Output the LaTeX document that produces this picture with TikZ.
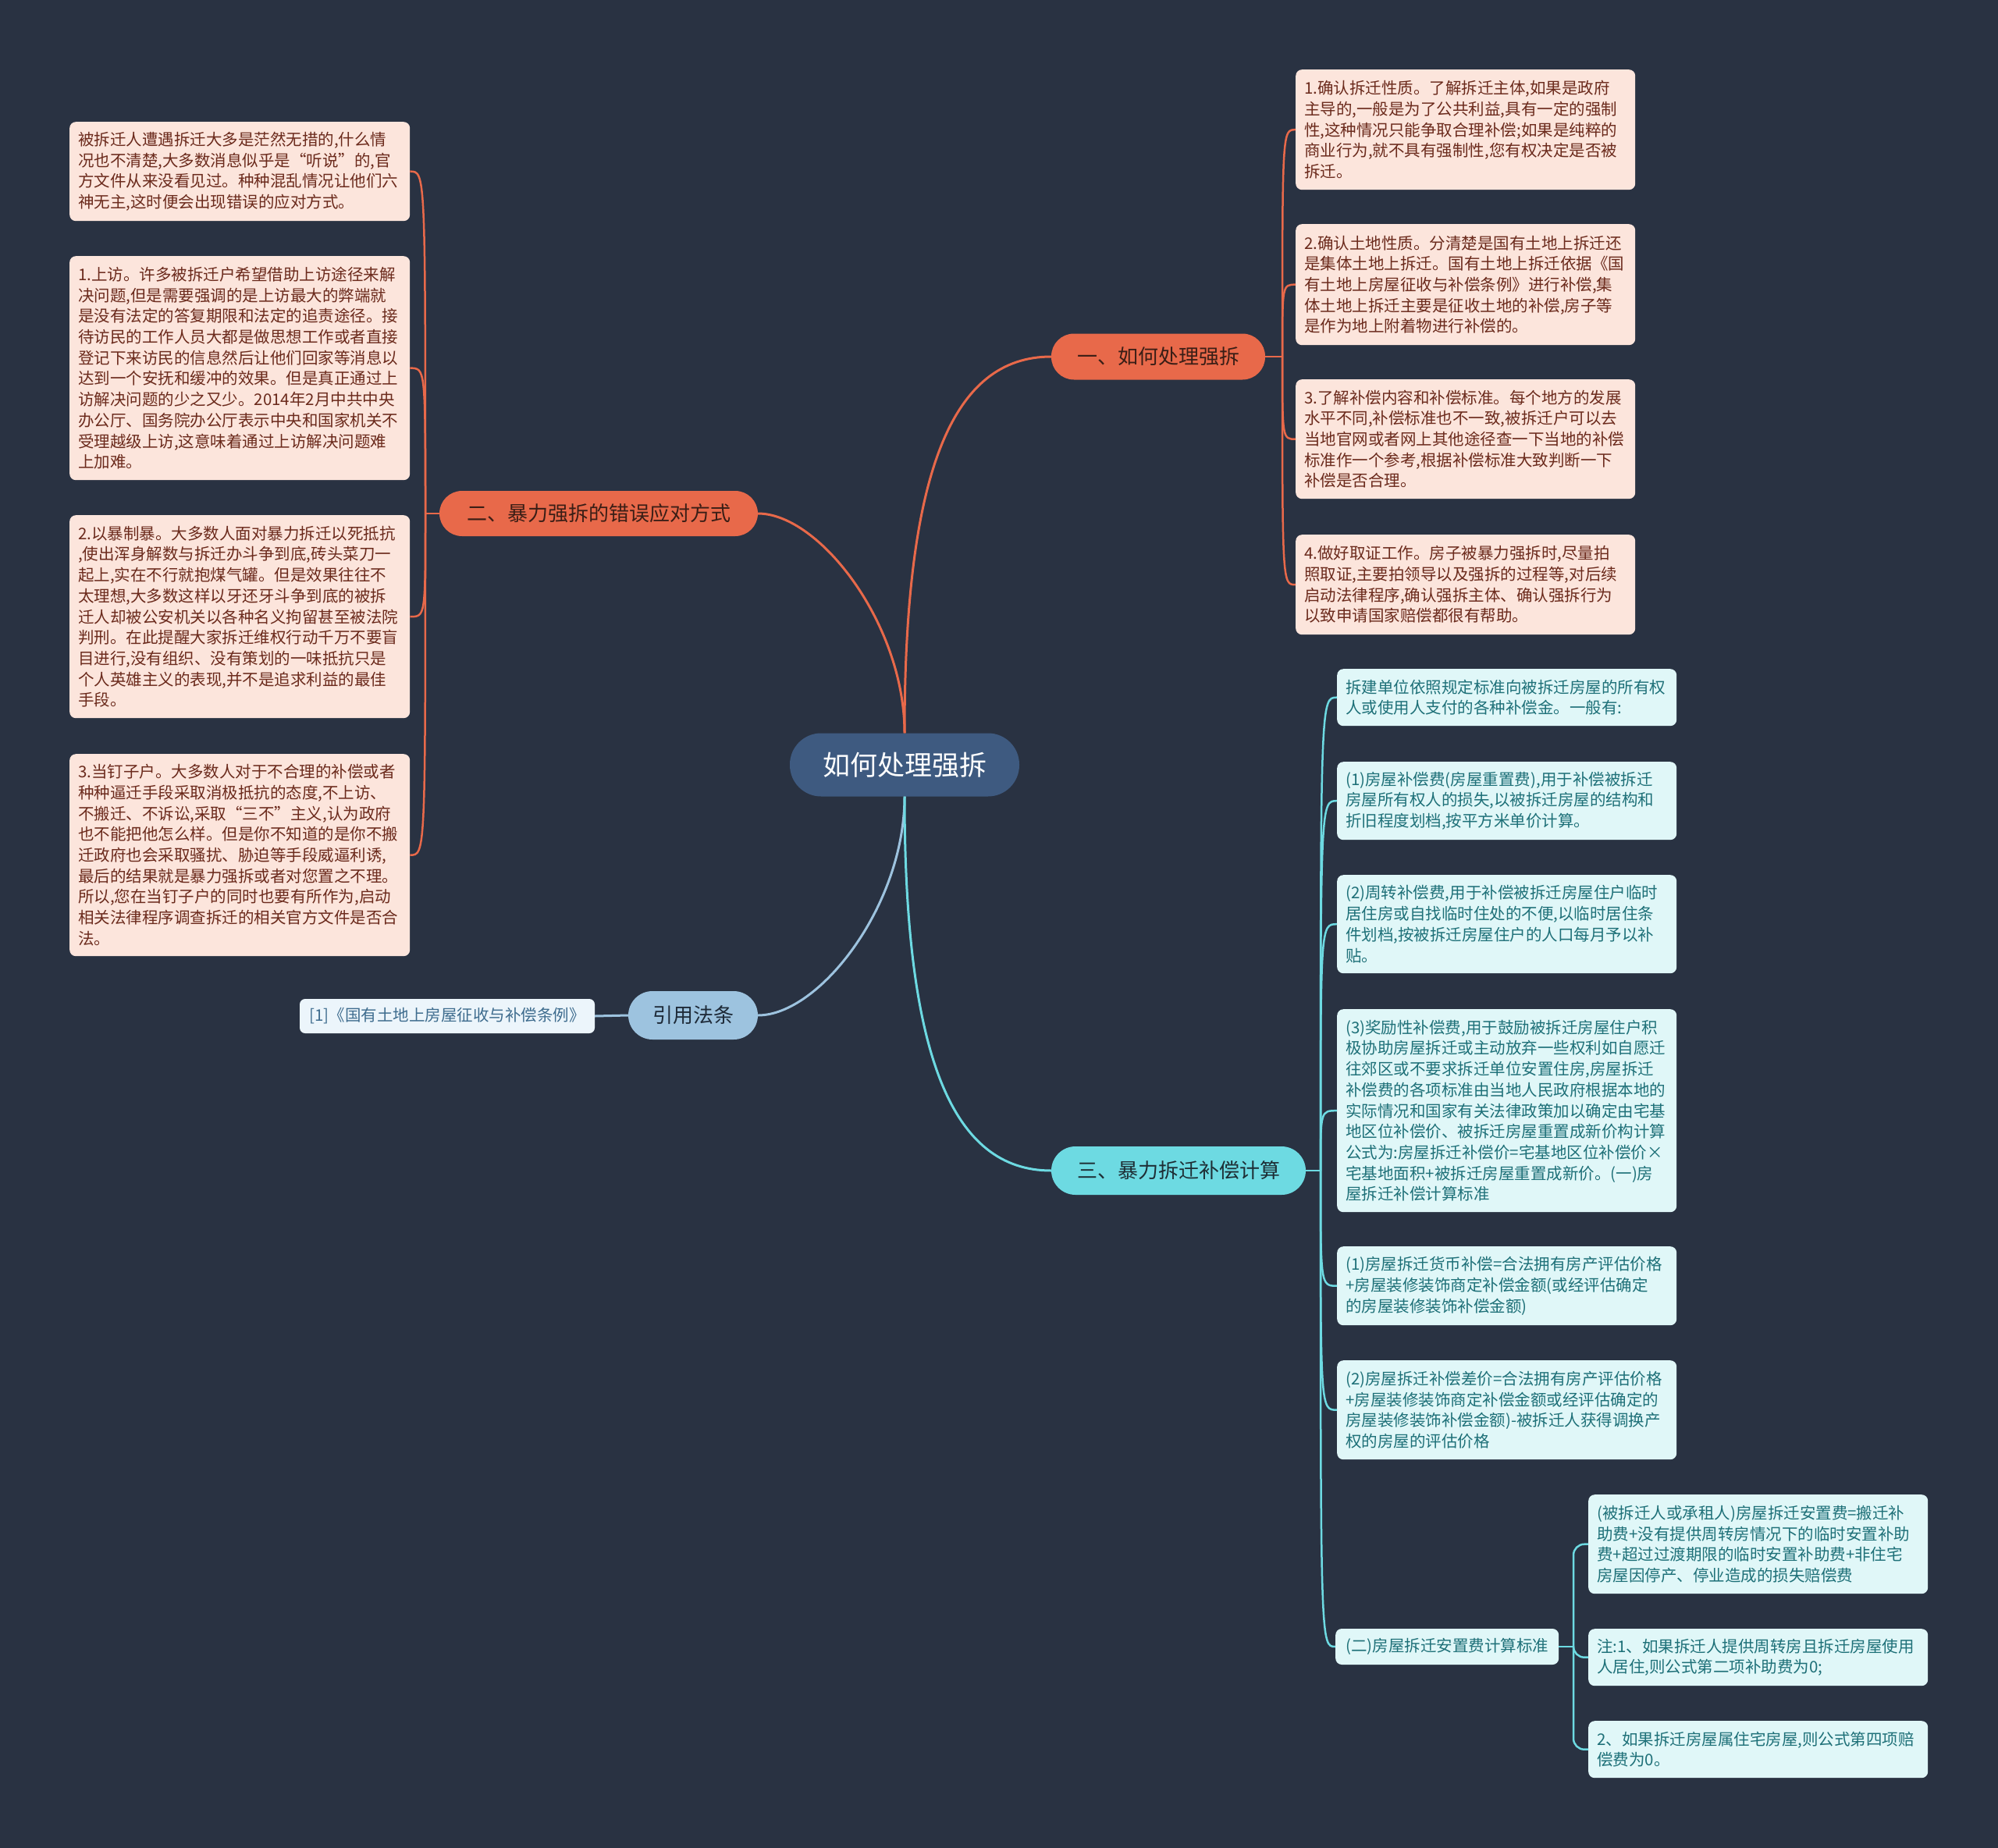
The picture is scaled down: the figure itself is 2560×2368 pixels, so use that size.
\documentclass[tikz,border=0pt]{standalone}
\usepackage{fontspec}
\setmainfont{Noto Sans CJK SC}
\definecolor{bg}{HTML}{293242}
\definecolor{orange}{HTML}{E8694A}
\definecolor{pinkfill}{HTML}{FCE5DC}
\definecolor{pinktext}{HTML}{6B2A1C}
\definecolor{cyanbr}{HTML}{6DDAE2}
\definecolor{cyanfill}{HTML}{E0F7F8}
\definecolor{cyantext}{HTML}{1E7078}
\definecolor{bluebr}{HTML}{9DC3DF}
\definecolor{citefill}{HTML}{ECF5FB}
\definecolor{citetext}{HTML}{3E6C8E}
\definecolor{centerfill}{HTML}{3E5A80}
\definecolor{brtext}{HTML}{3A1E16}
\definecolor{cyanbrtext}{HTML}{1E2E35}
\definecolor{bluebrtext}{HTML}{1E2A38}
\tikzset{
 leafbase/.style={anchor=north west, align=left, inner xsep=11pt, inner ysep=6pt, rounded corners=8pt, font=\fontsize{20.5}{26.7}\selectfont},
 pinkleaf/.style={leafbase, fill=pinkfill, text=pinktext, text width=414pt},
 pinkleafr/.style={leafbase, fill=pinkfill, text=pinktext, text width=413pt},
 cyanleaf/.style={leafbase, fill=cyanfill, text=cyantext, text width=413pt},
 branchbox/.style={rounded corners=29pt, minimum height=59pt, inner xsep=0pt, inner ysep=0pt, font=\fontsize{26}{30}\selectfont},
 mainline/.style={line width=3pt},
 leafline/.style={line width=2.5pt},
}
\begin{document}
\begin{tikzpicture}[x=1pt,y=-1pt]
\useasboundingbox (0,0) rectangle (2560,2368);
\fill[bg] (0,0) rectangle (2560,2368);

% center
\node[fill=centerfill, text=white, rounded corners=40pt, minimum width=294pt, minimum height=81pt, inner sep=0pt, font=\fontsize{35}{40}\selectfont] (center) at (1159,980) {如何处理强拆};

% branches
\node[branchbox, fill=orange, text=brtext, minimum width=274pt] (b1) at (1484,457) {一、如何处理强拆};
\node[branchbox, fill=orange, text=brtext, minimum width=408pt, minimum height=58pt] (b2) at (767,658) {二、暴力强拆的错误应对方式};
\node[branchbox, fill=cyanbr, text=cyanbrtext, minimum width=326pt, minimum height=62pt, rounded corners=31pt] (b3) at (1510,1500) {三、暴力拆迁补偿计算};
\node[branchbox, fill=bluebr, text=bluebrtext, minimum width=166pt, minimum height=62pt, rounded corners=31pt] (b4) at (888,1301) {引用法条};
\node[fill=citefill, text=citetext, rounded corners=7pt, minimum width=378pt, minimum height=44pt, inner sep=0pt, font=\fontsize{20.5}{24}\selectfont] (cite) at (573,1302) {[1]《国有土地上房屋征收与补偿条例》};

% left leaves (branch 二)
\node[pinkleaf, minimum height=127pt] (L0) at (89,156) {被拆迁人遭遇拆迁大多是茫然无措的,什么情\\况也不清楚,大多数消息似乎是“听说”的,官\\方文件从来没看见过。种种混乱情况让他们六\\神无主,这时便会出现错误的应对方式。};
\node[pinkleaf, minimum height=287pt] (L1) at (89,328) {1.上访。许多被拆迁户希望借助上访途径来解\\决问题,但是需要强调的是上访最大的弊端就\\是没有法定的答复期限和法定的追责途径。接\\待访民的工作人员大都是做思想工作或者直接\\登记下来访民的信息然后让他们回家等消息以\\达到一个安抚和缓冲的效果。但是真正通过上\\访解决问题的少之又少。2014年2月中共中央\\办公厅、国务院办公厅表示中央和国家机关不\\受理越级上访,这意味着通过上访解决问题难\\上加难。};
\node[pinkleaf, minimum height=260pt] (L2) at (89,660) {2.以暴制暴。大多数人面对暴力拆迁以死抵抗\\,使出浑身解数与拆迁办斗争到底,砖头菜刀一\\起上,实在不行就抱煤气罐。但是效果往往不\\太理想,大多数这样以牙还牙斗争到底的被拆\\迁人却被公安机关以各种名义拘留甚至被法院\\判刑。在此提醒大家拆迁维权行动千万不要盲\\目进行,没有组织、没有策划的一味抵抗只是\\个人英雄主义的表现,并不是追求利益的最佳\\手段。};
\node[pinkleaf, minimum height=259pt] (L3) at (89,966) {3.当钉子户。大多数人对于不合理的补偿或者\\种种逼迁手段采取消极抵抗的态度,不上访、\\不搬迁、不诉讼,采取“三不”主义,认为政府\\也不能把他怎么样。但是你不知道的是你不搬\\迁政府也会采取骚扰、胁迫等手段威逼利诱,\\最后的结果就是暴力强拆或者对您置之不理。\\所以,您在当钉子户的同时也要有所作为,启动\\相关法律程序调查拆迁的相关官方文件是否合\\法。};

% right leaves (branch 一)
\node[pinkleafr, minimum height=154pt] (R0) at (1660,89) {1.确认拆迁性质。了解拆迁主体,如果是政府\\主导的,一般是为了公共利益,具有一定的强制\\性,这种情况只能争取合理补偿;如果是纯粹的\\商业行为,就不具有强制性,您有权决定是否被\\拆迁。};
\node[pinkleafr, minimum height=155pt] (R1) at (1660,287) {2.确认土地性质。分清楚是国有土地上拆迁还\\是集体土地上拆迁。国有土地上拆迁依据《国\\有土地上房屋征收与补偿条例》进行补偿,集\\体土地上拆迁主要是征收土地的补偿,房子等\\是作为地上附着物进行补偿的。};
\node[pinkleafr, minimum height=153pt] (R2) at (1660,486) {3.了解补偿内容和补偿标准。每个地方的发展\\水平不同,补偿标准也不一致,被拆迁户可以去\\当地官网或者网上其他途径查一下当地的补偿\\标准作一个参考,根据补偿标准大致判断一下\\补偿是否合理。};
\node[pinkleafr, minimum height=128pt] (R3) at (1660,685) {4.做好取证工作。房子被暴力强拆时,尽量拍\\照取证,主要拍领导以及强拆的过程等,对后续\\启动法律程序,确认强拆主体、确认强拆行为\\以致申请国家赔偿都很有帮助。};

% cyan leaves (branch 三)
\node[cyanleaf, minimum height=73pt] (C0) at (1713,857) {拆建单位依照规定标准向被拆迁房屋的所有权\\人或使用人支付的各种补偿金。一般有:};
\node[cyanleaf, minimum height=100pt] (C1) at (1713,976) {(1)房屋补偿费(房屋重置费),用于补偿被拆迁\\房屋所有权人的损失,以被拆迁房屋的结构和\\折旧程度划档,按平方米单价计算。};
\node[cyanleaf, minimum height=126pt] (C2) at (1713,1121) {(2)周转补偿费,用于补偿被拆迁房屋住户临时\\居住房或自找临时住处的不便,以临时居住条\\件划档,按被拆迁房屋住户的人口每月予以补\\贴。};
\node[cyanleaf, minimum height=260pt] (C3) at (1713,1293) {(3)奖励性补偿费,用于鼓励被拆迁房屋住户积\\极协助房屋拆迁或主动放弃一些权利如自愿迁\\往郊区或不要求拆迁单位安置住房,房屋拆迁\\补偿费的各项标准由当地人民政府根据本地的\\实际情况和国家有关法律政策加以确定由宅基\\地区位补偿价、被拆迁房屋重置成新价构计算\\公式为:房屋拆迁补偿价=宅基地区位补偿价×\\宅基地面积+被拆迁房屋重置成新价。(一)房\\屋拆迁补偿计算标准};
\node[cyanleaf, minimum height=101pt] (C4) at (1713,1597) {(1)房屋拆迁货币补偿=合法拥有房产评估价格\\+房屋装修装饰商定补偿金额(或经评估确定\\的房屋装修装饰补偿金额)};
\node[cyanleaf, minimum height=127pt] (C5) at (1713,1743) {(2)房屋拆迁补偿差价=合法拥有房产评估价格\\+房屋装修装饰商定补偿金额或经评估确定的\\房屋装修装饰补偿金额)-被拆迁人获得调换产\\权的房屋的评估价格};
\node[leafbase, fill=cyanfill, text=cyantext, anchor=west, minimum width=286pt, minimum height=46pt, inner xsep=12pt, inner ysep=0pt] (C6) at (1711,2110) {(二)房屋拆迁安置费计算标准};

% sub leaves
\node[cyanleaf, minimum height=127pt] (D0) at (2035,1915) {(被拆迁人或承租人)房屋拆迁安置费=搬迁补\\助费+没有提供周转房情况下的临时安置补助\\费+超过过渡期限的临时安置补助费+非住宅\\房屋因停产、停业造成的损失赔偿费};
\node[cyanleaf, minimum height=73pt] (D1) at (2035,2087) {注:1、如果拆迁人提供周转房且拆迁房屋使用\\人居住,则公式第二项补助费为0;};
\node[cyanleaf, minimum height=73pt] (D2) at (2035,2205) {2、如果拆迁房屋属住宅房屋,则公式第四项赔\\偿费为0。};

% junctions
\coordinate (j1) at (1643,457);
\coordinate (j2) at (545,658);
\coordinate (j3) at (1692,1500);
\coordinate (j4) at (2016,2110);

% main connectors
\draw[mainline, orange] (center.north) .. controls (1159,602) and (1221,457) .. (b1.west);
\draw[mainline, orange] (center.north) .. controls (1159,800) and (1050,658) .. (b2.east);
\draw[mainline, bluebr] (center.south) .. controls (1159,1160) and (1050,1301) .. (b4.east);
\draw[mainline, cyanbr] (center.south) .. controls (1159,1356) and (1221,1500) .. (b3.west);
\draw[mainline, bluebr] (b4.west) -- (cite.east);

% branch 一
\draw[leafline, orange] (b1.east) -- (j1);
\foreach \n in {R0,R1,R2,R3}
  \draw[leafline, orange] (j1) .. controls (j1 |- \n.west) and (j1 |- \n.west) .. (\n.west);

% branch 二
\draw[leafline, orange] (b2.west) -- (j2);
\foreach \n in {L0,L1,L2,L3}
  \draw[leafline, orange] (j2) .. controls (j2 |- \n.east) and (j2 |- \n.east) .. (\n.east);

% branch 三
\draw[leafline, cyanbr] (b3.east) -- (j3);
\foreach \n in {C0,C1,C2,C3,C4,C5,C6}
  \draw[leafline, cyanbr] (j3) .. controls (j3 |- \n.west) and (j3 |- \n.west) .. (\n.west);

% sub branch
\draw[leafline, cyanbr] (C6.east) -- (j4);
\foreach \n in {D0,D1,D2}
  \draw[leafline, cyanbr, rounded corners=14pt] (j4) -- (j4 |- \n.west) -- (\n.west);
\end{tikzpicture}
\end{document}
